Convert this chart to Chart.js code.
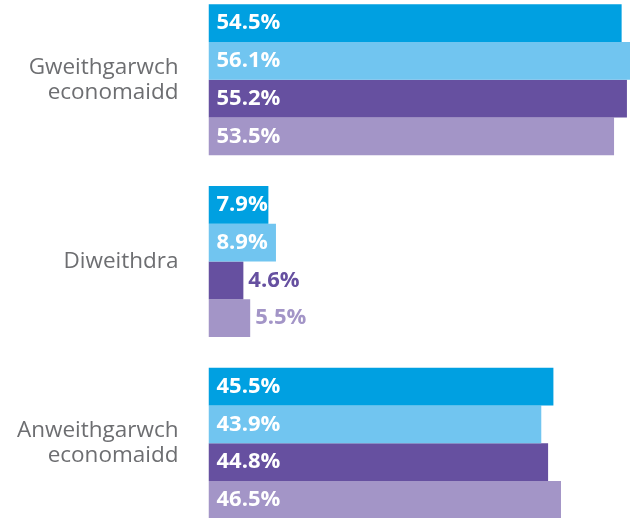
<!DOCTYPE html>
<html>
<head>
<meta charset="utf-8">
<script src="https://cdn.jsdelivr.net/npm/chart.js@4"></script>
<style>
  html, body { margin: 0; padding: 0; background: #fff; overflow: hidden; width: 630px; height: 518px; }
  #wrap { position: absolute; left: 0; top: -10.75px; width: 633px; height: 545px; }
</style>
</head>
<body>
<div id="wrap"><canvas id="c" width="633" height="545"></canvas></div>
<script>
const categories = [["Gweithgarwch", "economaidd"], "Diweithdra", ["Anweithgarwch", "economaidd"]];
const series1 = [54.5, 7.9, 45.5];
const series2 = [56.1, 8.9, 43.9];
const series3 = [55.2, 4.6, 44.8];
const series4 = [53.5, 5.5, 46.5];
const seriesColors = ["#00a0e1", "#71c5f0", "#6650a0", "#a395c7"];

const labelPlugin = {
  id: 'valueLabels',
  afterDatasetsDraw(chart) {
    const ctx = chart.ctx;
    ctx.save();
    ctx.font = "bold 22px 'Open Sans'";
    ctx.textBaseline = 'middle';
    ctx.textAlign = 'left';
    chart.data.datasets.forEach((ds, di) => {
      const meta = chart.getDatasetMeta(di);
      meta.data.forEach((bar, i) => {
        const txt = ds.data[i].toFixed(1) + '%';
        const w = ctx.measureText(txt).width;
        const barW = bar.x - bar.base;
        if (barW >= w + 4) {
          ctx.fillStyle = '#ffffff';
          ctx.fillText(txt, bar.base + 8, bar.y);
        } else {
          ctx.fillStyle = ds.backgroundColor;
          ctx.fillText(txt, bar.x + 5, bar.y);
        }
      });
    });
    ctx.restore();
  }
};

new Chart(document.getElementById('c'), {
  type: 'bar',
  data: {
    labels: categories,
    datasets: [series1, series2, series3, series4].map((d, i) => ({
      data: d,
      backgroundColor: seriesColors[i],
      borderWidth: 0,
      barPercentage: 1,
      categoryPercentage: 0.831
    }))
  },
  options: {
    indexAxis: 'y',
    responsive: false,
    animation: false,
    devicePixelRatio: 1,
    layout: { padding: 0 },
    plugins: { legend: { display: false }, tooltip: { enabled: false } },
    scales: {
      x: { display: false, min: 0, max: 56 },
      y: {
        grid: { display: false },
        border: { display: false },
        ticks: {
          padding: 22,
          color: '#6d6e71',
          font: { family: "'Open Sans'", size: 22.5, lineHeight: 1.12 }
        },
        afterFit(scale) {
          scale.width = 208.5;
          scale.paddingTop = 0;
          scale.paddingBottom = 0;
        }
      }
    }
  },
  plugins: [labelPlugin]
});
</script>
</body>
</html>
